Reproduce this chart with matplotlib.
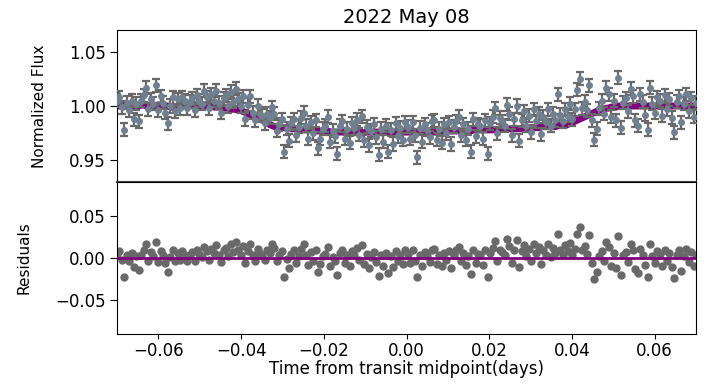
import numpy as np
import matplotlib
matplotlib.use("Agg")
import matplotlib.pyplot as plt

title = "2022 May 08"
x_label = "Time from transit midpoint(days)"
flux_label = "Normalized Flux"
resid_label = "Residuals"

t_start, t_end, n_points = -0.0700, 0.0700, 240
flux_err = 0.006

model = [
    1.000, 1.000, 1.001, 1.001, 1.000, 1.000, 0.999, 0.999, 1.000, 1.000,
    1.001, 1.001, 1.000, 1.000, 0.999, 1.000, 1.000, 1.001, 1.001, 1.000,
    1.000, 1.000, 0.999, 0.999, 0.999, 1.000, 1.000, 1.000, 1.001, 1.001,
    1.001, 1.000, 1.000, 1.000, 1.000, 1.001, 1.001, 1.000, 1.000, 1.000,
    0.999, 0.999, 0.999, 0.999, 0.998, 0.998, 0.998, 0.997, 0.997, 0.997,
    0.996, 0.996, 0.995, 0.994, 0.993, 0.992, 0.991, 0.990, 0.989, 0.988,
    0.987, 0.986, 0.984, 0.983, 0.982, 0.981, 0.981, 0.980, 0.980, 0.980,
    0.980, 0.980, 0.979, 0.979, 0.979, 0.979, 0.978, 0.978, 0.978, 0.978,
    0.978, 0.978, 0.977, 0.977, 0.977, 0.977, 0.977, 0.977, 0.976, 0.976,
    0.976, 0.976, 0.976, 0.976, 0.976, 0.976, 0.976, 0.976, 0.9755, 0.9755,
    0.9755, 0.9755, 0.9755, 0.976, 0.976, 0.976, 0.976, 0.976, 0.976, 0.976,
    0.976, 0.976, 0.976, 0.976, 0.976, 0.976, 0.976, 0.976, 0.976, 0.976,
    0.976, 0.976, 0.976, 0.976, 0.976, 0.976, 0.976, 0.976, 0.976, 0.976,
    0.976, 0.976, 0.976, 0.976, 0.976, 0.977, 0.977, 0.977, 0.977, 0.977,
    0.977, 0.977, 0.977, 0.977, 0.977, 0.977, 0.977, 0.978, 0.978, 0.978,
    0.978, 0.978, 0.978, 0.978, 0.978, 0.978, 0.978, 0.978, 0.979, 0.979,
    0.979, 0.979, 0.979, 0.979, 0.979, 0.979, 0.979, 0.979, 0.980, 0.980,
    0.980, 0.980, 0.980, 0.980, 0.980, 0.981, 0.981, 0.981, 0.981, 0.981,
    0.981, 0.981, 0.982, 0.982, 0.982, 0.982, 0.983, 0.984, 0.985, 0.986,
    0.987, 0.988, 0.989, 0.990, 0.991, 0.992, 0.993, 0.994, 0.995, 0.996,
    0.997, 0.997, 0.998, 0.998, 0.999, 0.999, 0.999, 1.000, 1.000, 1.000,
    1.000, 1.000, 1.000, 1.000, 1.000, 1.000, 1.000, 1.000, 1.000, 1.000,
    1.000, 1.000, 1.000, 1.000, 1.000, 1.000, 1.000, 1.000, 1.000, 1.000,
    1.000, 1.000, 1.000, 1.000, 1.000, 1.000, 1.000, 1.000, 1.000, 1.000,
]

residuals = [
    0.005, 0.008, -0.002, -0.023, 0.003, -0.004, 0.006, -0.011, 0.002, -0.014,
    0.004, 0.009, 0.017, -0.003, 0.007, 0.002, 0.019, -0.005, 0.008, 0.003,
    -0.006, -0.016, 0.001, 0.009, -0.004, 0.006, -0.002, 0.008, 0.004, -0.003,
    0.003, 0.007, -0.004, 0.010, 0.005, 0.001, 0.013, 0.008, -0.002, 0.011,
    0.006, 0.015, 0.004, -0.005, 0.009, 0.012, 0.002, 0.016, 0.007, 0.019,
    0.010, 0.004, 0.014, -0.006, 0.008, 0.017, 0.003, -0.003, 0.011, 0.005,
    0.004, -0.002, 0.009, 0.006, 0.017, 0.012, -0.004, 0.003, 0.008, -0.022,
    -0.001, -0.012, 0.005, 0.009, -0.006, 0.002, 0.011, 0.016, 0.004, -0.008,
    0.007, -0.003, 0.010, -0.016, -0.007, 0.002, 0.005, 0.013, -0.009, 0.001,
    -0.004, -0.020, 0.006, 0.010, -0.006, 0.003, -0.010, 0.008, 0.004, 0.012,
    -0.002, 0.015, -0.007, 0.005, -0.012, 0.001, 0.007, -0.005, -0.021, 0.003,
    -0.009, 0.006, -0.018, 0.002, -0.011, 0.008, -0.004, 0.004, -0.007, 0.009,
    0.005, -0.006, 0.009, -0.003, -0.023, 0.004, -0.009, 0.007, 0.002, -0.005,
    0.010, 0.011, -0.007, 0.003, -0.010, 0.006, -0.002, 0.008, -0.012, 0.004,
    0.009, 0.013, -0.004, 0.006, -0.008, 0.002, -0.019, 0.010, -0.006, 0.005,
    0.004, -0.008, 0.009, -0.022, 0.006, 0.012, 0.020, -0.003, 0.010, 0.007,
    0.003, 0.022, 0.014, -0.006, 0.009, 0.021, -0.011, 0.008, 0.015, 0.002,
    0.011, -0.004, 0.017, 0.006, 0.013, -0.007, 0.009, 0.004, 0.016, 0.001,
    0.012, 0.006, 0.029, 0.010, 0.004, 0.015, 0.008, 0.018, 0.003, 0.011,
    0.028, 0.037, 0.009, 0.014, 0.005, 0.027, -0.006, -0.025, -0.016, 0.002,
    0.008, -0.004, 0.019, 0.013, -0.009, 0.006, -0.012, 0.026, -0.020, 0.003,
    0.007, -0.005, 0.016, 0.009, -0.013, -0.018, 0.011, 0.004, -0.008, -0.022,
    0.017, 0.002, -0.006, 0.008, 0.005, -0.009, 0.010, -0.003, 0.006, -0.011,
    -0.024, 0.004, 0.009, -0.015, 0.002, 0.011, -0.005, 0.007, -0.010, 0.003,
]

time = np.linspace(t_start, t_end, n_points)
model_arr = np.array(model)
resid_arr = np.array(residuals)
flux = model_arr + resid_arr

plt.rcParams['font.family'] = ['DejaVu Sans']
fig = plt.figure(figsize=(7.10, 3.84), dpi=100)
left, right = 117 / 710, 696 / 710
ax1 = fig.add_axes([left, 1 - 182 / 384, right - left, 152 / 384])
ax2 = fig.add_axes([left, 1 - 334 / 384, right - left, 152 / 384], sharex=ax1)

ax1.plot(time, model_arr, color='purple', lw=5, zorder=2)
ax1.errorbar(time, flux, yerr=flux_err, fmt='o', color='slategray', ms=4,
             ecolor='dimgray', elinewidth=1.6, capsize=3, capthick=1.6, zorder=3)
ax1.set_ylim(0.93, 1.07)
ax1.set_yticks([0.95, 1.00, 1.05])
ax1.set_xlim(-0.07, 0.07)
ax1.tick_params(axis='x', which='both', bottom=False, labelbottom=False)
ax1.set_title(title, fontsize=14, pad=5)
ax1.set_ylabel(flux_label, fontsize=11)
ax1.yaxis.set_label_coords(-0.121, 0.5)

ax2.plot(time, resid_arr, 'o', color='dimgray', ms=5, zorder=2)
ax2.axhline(0, color='purple', lw=2, zorder=3)
ax2.set_ylim(-0.09, 0.09)
ax2.set_yticks([-0.05, 0.00, 0.05])
ax2.set_xticks([-0.06, -0.04, -0.02, 0.00, 0.02, 0.04, 0.06])
ax2.set_xlabel(x_label, fontsize=12, labelpad=0)
ax2.set_ylabel(resid_label, fontsize=11)
ax2.yaxis.set_label_coords(-0.147, 0.5)

for ax in (ax1, ax2):
    ax.tick_params(axis='y', labelsize=12, length=5, pad=3)
ax2.tick_params(axis='x', labelsize=12, length=3.5, pad=2)
ax1.spines['bottom'].set_color('#444444')
ax1.spines['bottom'].set_linewidth(1.5)

fig.savefig("out.png", dpi=100)
